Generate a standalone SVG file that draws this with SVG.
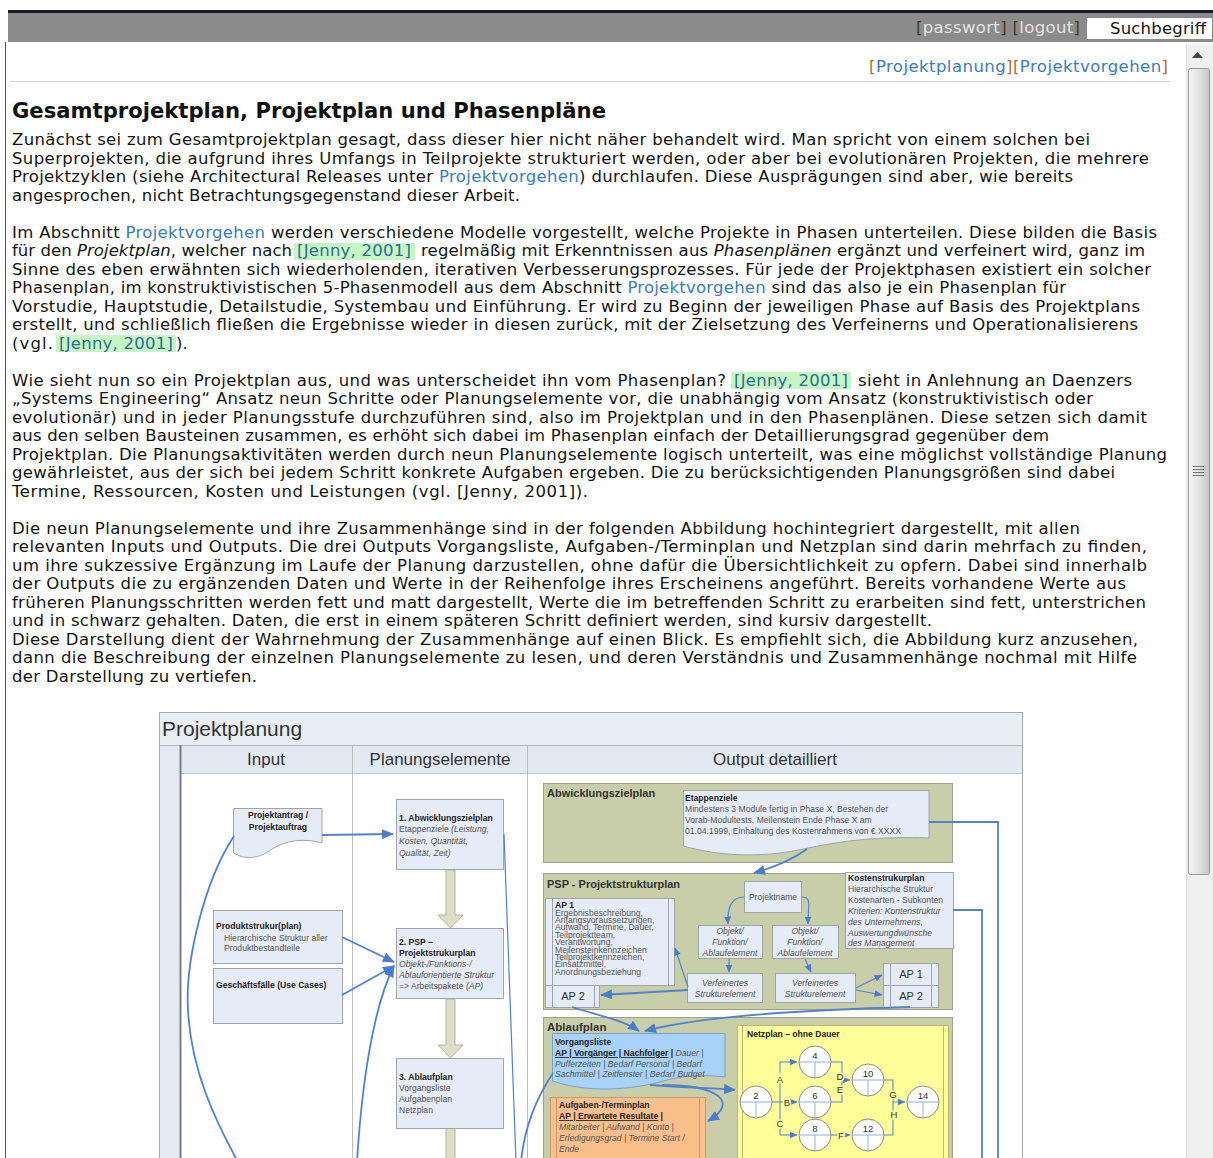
<svg xmlns="http://www.w3.org/2000/svg" width="1213" height="1158" viewBox="0 0 1213 1158">
<defs>
<style>
.b{font-family:"DejaVu Sans",Verdana,sans-serif;font-size:16.5px;fill:#141414}
.lk{fill:#3a7cc0}
.jn{fill:#2a6f8f}
.hl{fill:#c6f6c3}
.br{fill:#b86b32}
.d{font-family:"Liberation Sans",Arial,sans-serif;fill:#333}
.s{font-family:"Liberation Sans",Arial,sans-serif;font-size:8.6px;fill:#555}
.sb{font-weight:bold;fill:#222}
.it{font-style:italic}
.u{text-decoration:underline}
.box{fill:#e6ecf7;stroke:#a4a4a4;stroke-width:1}
.olive{fill:#c8cea8;stroke:#9ea283;stroke-width:1}
.flow{fill:#dcdec6;stroke:#b2b69a;stroke-width:1}
.con{fill:none;stroke:#4f82d4;stroke-width:1.8}
.thin{fill:none;stroke:#4f82d4;stroke-width:1.2}
.net{fill:none;stroke:#5b8bd4;stroke-width:1.1}
.node{fill:#fff;stroke:#8a8a8a;stroke-width:1}
.cross{stroke:#8fb0e0;stroke-width:1}
.nl{font-family:"Liberation Sans",Arial,sans-serif;font-size:9.5px;fill:#333;text-anchor:middle}
.el{font-family:"Liberation Sans",Arial,sans-serif;font-size:9.5px;fill:#333;text-anchor:middle;stroke:#ffff99;stroke-width:3;paint-order:stroke}
</style>
<marker id="ab" markerUnits="userSpaceOnUse" viewBox="0 0 12 10" markerWidth="12" markerHeight="10" refX="11" refY="5" orient="auto"><path d="M0,0 L12,5 L0,10 Z" fill="#4a7dd0"/></marker>
<marker id="as" markerUnits="userSpaceOnUse" viewBox="0 0 8 7" markerWidth="8" markerHeight="7" refX="7.5" refY="3.5" orient="auto"><path d="M0,0 L8,3.5 L0,7 Z" fill="#4a7dd0"/></marker>
<linearGradient id="thumb" x1="0" y1="0" x2="1" y2="0"><stop offset="0" stop-color="#f6f6f6"/><stop offset="0.5" stop-color="#e2e2e2"/><stop offset="1" stop-color="#c4c4c4"/></linearGradient>
</defs>

<rect width="1213" height="1158" fill="#fff"/>

<g id="page-chrome">
<rect x="8" y="10" width="1205" height="3" fill="#1c1c28"/>
<rect x="8" y="13" width="1205" height="29" fill="#8b8b8b"/>
<rect x="1087" y="18" width="125" height="21" fill="#fff"/>
<text class="b" x="916" y="33" textLength="164" lengthAdjust="spacing"><tspan fill="#4b3a22">[</tspan><tspan fill="#e4e4e4">passwort</tspan><tspan fill="#4b3a22">]</tspan> <tspan fill="#4b3a22">[</tspan><tspan fill="#e4e4e4">logout</tspan><tspan fill="#4b3a22">]</tspan></text>
<text class="b" x="1110" y="34" textLength="96" lengthAdjust="spacing">Suchbegriff</text>
<line x1="5.5" y1="42" x2="5.5" y2="1158" stroke="#555" stroke-width="1"/>
<text class="b" x="869" y="72" textLength="299" lengthAdjust="spacing"><tspan class="br">[</tspan><tspan class="lk">Projektplanung</tspan><tspan class="br">][</tspan><tspan class="lk">Projektvorgehen</tspan><tspan class="br">]</tspan></text>
<line x1="10" y1="81.5" x2="1170" y2="81.5" stroke="#d4d4d4" stroke-width="1"/>
<rect x="1186" y="44" width="27" height="1114" fill="#f0f0f0"/>
<line x1="1186.5" y1="44" x2="1186.5" y2="1158" stroke="#dcdcdc"/>
<path d="M1192,58 L1197.5,52 L1203,58 Z" fill="#444"/>
<rect x="1188.5" y="68.5" width="21" height="806" rx="2" fill="url(#thumb)" stroke="#9a9a9a"/>
<g stroke="#777" stroke-width="1"><line x1="1193" y1="466.5" x2="1204" y2="466.5"/><line x1="1193" y1="469.5" x2="1204" y2="469.5"/><line x1="1193" y1="472.5" x2="1204" y2="472.5"/><line x1="1193" y1="475.5" x2="1204" y2="475.5"/></g>
</g>

<g id="article">
<text x="12" y="118" font-family="DejaVu Sans, Verdana, sans-serif" font-weight="bold" font-size="21.5px" fill="#111" textLength="594" lengthAdjust="spacingAndGlyphs">Gesamtprojektplan, Projektplan und Phasenpläne</text>

<rect class="hl" x="294" y="243" width="121" height="17"/>
<rect class="hl" x="56" y="335" width="120" height="17"/>
<rect class="hl" x="731" y="372" width="120" height="17"/>

<text class="b" x="12" y="145" textLength="1078" lengthAdjust="spacing">Zunächst sei zum Gesamtprojektplan gesagt, dass dieser hier nicht näher behandelt wird. Man spricht von einem solchen bei</text>
<text class="b" x="12" y="163.5" textLength="1137" lengthAdjust="spacing">Superprojekten, die aufgrund ihres Umfangs in Teilprojekte strukturiert werden, oder aber bei evolutionären Projekten, die mehrere</text>
<text class="b" x="12" y="182" textLength="1061" lengthAdjust="spacing">Projektzyklen (siehe Architectural Releases unter <tspan class="lk">Projektvorgehen</tspan>) durchlaufen. Diese Ausprägungen sind aber, wie bereits</text>
<text class="b" x="12" y="200.5" textLength="508" lengthAdjust="spacing">angesprochen, nicht Betrachtungsgegenstand dieser Arbeit.</text>

<text class="b" x="12" y="237.5" textLength="1145" lengthAdjust="spacing">Im Abschnitt <tspan class="lk">Projektvorgehen</tspan> werden verschiedene Modelle vorgestellt, welche Projekte in Phasen unterteilen. Diese bilden die Basis</text>
<text class="b" x="12" y="256" textLength="280" lengthAdjust="spacing">für den <tspan class="it">Projektplan</tspan>, welcher nach</text>
<text class="b jn" x="297" y="256" textLength="114" lengthAdjust="spacing">[Jenny, 2001]</text>
<text class="b" x="421" y="256" textLength="724" lengthAdjust="spacing">regelmäßig mit Erkenntnissen aus <tspan class="it">Phasenplänen</tspan> ergänzt und verfeinert wird, ganz im</text>
<text class="b" x="12" y="274.5" textLength="1139" lengthAdjust="spacing">Sinne des eben erwähnten sich wiederholenden, iterativen Verbesserungsprozesses. Für jede der Projektphasen existiert ein solcher</text>
<text class="b" x="12" y="293" textLength="1054" lengthAdjust="spacing">Phasenplan, im konstruktivistischen 5-Phasenmodell aus dem Abschnitt <tspan class="lk">Projektvorgehen</tspan> sind das also je ein Phasenplan für</text>
<text class="b" x="12" y="311.5" textLength="1128" lengthAdjust="spacing">Vorstudie, Hauptstudie, Detailstudie, Systembau und Einführung. Er wird zu Beginn der jeweiligen Phase auf Basis des Projektplans</text>
<text class="b" x="12" y="330" textLength="1126" lengthAdjust="spacing">erstellt, und schließlich fließen die Ergebnisse wieder in diesen zurück, mit der Zielsetzung des Verfeinerns und Operationalisierens</text>
<text class="b" x="12" y="348.5" textLength="41" lengthAdjust="spacing">(vgl.</text>
<text class="b jn" x="59" y="348.5" textLength="114" lengthAdjust="spacing">[Jenny, 2001]</text>
<text class="b" x="176" y="348.5">).</text>

<text class="b" x="12" y="385.5" textLength="714" lengthAdjust="spacing">Wie sieht nun so ein Projektplan aus, und was unterscheidet ihn vom Phasenplan?</text>
<text class="b jn" x="734" y="385.5" textLength="114" lengthAdjust="spacing">[Jenny, 2001]</text>
<text class="b" x="858" y="385.5" textLength="274" lengthAdjust="spacing">sieht in Anlehnung an Daenzers</text>
<text class="b" x="12" y="404" textLength="1081" lengthAdjust="spacing">„Systems Engineering“ Ansatz neun Schritte oder Planungselemente vor, die unabhängig vom Ansatz (konstruktivistisch oder</text>
<text class="b" x="12" y="422.5" textLength="1135" lengthAdjust="spacing">evolutionär) und in jeder Planungsstufe durchzuführen sind, also im Projektplan und in den Phasenplänen. Diese setzen sich damit</text>
<text class="b" x="12" y="441" textLength="1037" lengthAdjust="spacing">aus den selben Bausteinen zusammen, es erhöht sich dabei im Phasenplan einfach der Detaillierungsgrad gegenüber dem</text>
<text class="b" x="12" y="459.5" textLength="1155" lengthAdjust="spacing">Projektplan. Die Planungsaktivitäten werden durch neun Planungselemente logisch unterteilt, was eine möglichst vollständige Planung</text>
<text class="b" x="12" y="478" textLength="1103" lengthAdjust="spacing">gewährleistet, aus der sich bei jedem Schritt konkrete Aufgaben ergeben. Die zu berücksichtigenden Planungsgrößen sind dabei</text>
<text class="b" x="12" y="496.5" textLength="576" lengthAdjust="spacing">Termine, Ressourcen, Kosten und Leistungen (vgl. [Jenny, 2001]).</text>

<text class="b" x="12" y="533.5" textLength="1068" lengthAdjust="spacing">Die neun Planungselemente und ihre Zusammenhänge sind in der folgenden Abbildung hochintegriert dargestellt, mit allen</text>
<text class="b" x="12" y="552" textLength="1135" lengthAdjust="spacing">relevanten Inputs und Outputs. Die drei Outputs Vorgangsliste, Aufgaben-/Terminplan und Netzplan sind darin mehrfach zu finden,</text>
<text class="b" x="12" y="570.5" textLength="1135" lengthAdjust="spacing">um ihre sukzessive Ergänzung im Laufe der Planung darzustellen, ohne dafür die Übersichtlichkeit zu opfern. Dabei sind innerhalb</text>
<text class="b" x="12" y="589" textLength="1114" lengthAdjust="spacing">der Outputs die zu ergänzenden Daten und Werte in der Reihenfolge ihres Erscheinens angeführt. Bereits vorhandene Werte aus</text>
<text class="b" x="12" y="607.5" textLength="1134" lengthAdjust="spacing">früheren Planungsschritten werden fett und matt dargestellt, Werte die im betreffenden Schritt zu erarbeiten sind fett, unterstrichen</text>
<text class="b" x="12" y="626" textLength="920" lengthAdjust="spacing">und in schwarz gehalten. Daten, die erst in einem späteren Schritt definiert werden, sind kursiv dargestellt.</text>
<text class="b" x="12" y="644.5" textLength="1126" lengthAdjust="spacing">Diese Darstellung dient der Wahrnehmung der Zusammenhänge auf einen Blick. Es empfiehlt sich, die Abbildung kurz anzusehen,</text>
<text class="b" x="12" y="663" textLength="1125" lengthAdjust="spacing">dann die Beschreibung der einzelnen Planungselemente zu lesen, und deren Verständnis und Zusammenhänge nochmal mit Hilfe</text>
<text class="b" x="12" y="681.5" textLength="245" lengthAdjust="spacing">der Darstellung zu vertiefen.</text>
</g>

<g id="diagram">
<g id="frame">
<rect x="159.5" y="712.5" width="863" height="460" fill="#fff" stroke="#a8a8a8"/>
<rect x="160" y="713" width="862" height="32" fill="#e9eef5"/>
<text class="d" x="162" y="736" font-size="21px">Projektplanung</text>
<rect x="160" y="745" width="21" height="420" fill="#e4eaf3"/>
<rect x="181" y="745" width="841" height="28" fill="#e2e9f3"/>
<line x1="160" y1="745.5" x2="1022" y2="745.5" stroke="#b4b4b4"/>
<line x1="181" y1="773.5" x2="1022" y2="773.5" stroke="#c4c4c4"/>
<line x1="180.5" y1="745" x2="180.5" y2="1158" stroke="#7d7d7d" stroke-width="2"/>
<line x1="352.5" y1="745" x2="352.5" y2="1158" stroke="#bdbdbd"/>
<line x1="527.5" y1="745" x2="527.5" y2="1158" stroke="#bdbdbd"/>
<text class="d" x="266" y="765" font-size="17px" text-anchor="middle">Input</text>
<text class="d" x="440" y="765" font-size="17px" text-anchor="middle">Planungselemente</text>
<text class="d" x="775" y="765" font-size="17px" text-anchor="middle">Output detailliert</text>
</g>

<g id="input-projektantrag">
<path class="box" d="M233.5,808.5 H322 V843 C305,838 286,840 272,849 C259,859 245,860 233.5,853 Z"/>
<text class="s sb" x="278" y="818" text-anchor="middle">Projektantrag /</text>
<text class="s sb" x="278" y="830" text-anchor="middle">Projektauftrag</text>
</g>
<g id="input-produktstruktur">
<rect class="box" x="213.5" y="910.5" width="129" height="53"/>
<text class="s sb" x="216" y="929">Produktstrukur(plan)</text>
<text class="s" x="224" y="941">Hierarchische Struktur aller</text>
<text class="s" x="224" y="951">Produktbestandteile</text>
</g>
<g id="input-geschaeftsfaelle">
<rect class="box" x="213.5" y="968.5" width="129" height="55"/>
<text class="s sb" x="216" y="988">Geschäftsfälle (Use Cases)</text>
</g>

<g id="flow-arrows">
<path class="flow" d="M446,870 V915 H438 L450.5,928 L463,915 H455 V870 Z"/>
<path class="flow" d="M446,999 V1045 H438 L450.5,1058 L463,1045 H455 V999 Z"/>
<path class="flow" d="M446,1128 V1162 H455 V1128 Z"/>
</g>

<g id="pe-abwicklungszielplan">
<rect class="box" x="396.5" y="799.5" width="107" height="70"/>
<text class="s sb" x="399" y="821">1. Abwicklungszielplan</text>
<text class="s" x="399" y="832">Etappenziele <tspan class="it">(Leistung,</tspan></text>
<text class="s it" x="399" y="844">Kosten, Quantität,</text>
<text class="s it" x="399" y="856">Qualität, Zeit)</text>
</g>
<g id="pe-psp">
<rect class="box" x="396.5" y="928.5" width="107" height="70"/>
<text class="s sb" x="399" y="945">2. PSP –</text>
<text class="s sb" x="399" y="956">Projektstrukurplan</text>
<text class="s it" x="399" y="967">Objekt-/Funktions-/</text>
<text class="s it" x="399" y="978">Ablauforientierte Struktur</text>
<text class="s" x="399" y="989">=&gt; Arbeitspakete <tspan class="it">(AP)</tspan></text>
</g>
<g id="pe-ablaufplan">
<rect class="box" x="396.5" y="1058.5" width="107" height="70"/>
<text class="s sb" x="399" y="1080">3. Ablaufplan</text>
<text class="s" x="399" y="1091">Vorgangsliste</text>
<text class="s" x="399" y="1102">Aufgabenplan</text>
<text class="s" x="399" y="1113">Netzplan</text>
</g>

<g id="out-abwicklungszielplan">
<rect class="olive" x="543.5" y="783.5" width="409" height="79"/>
<text class="d" x="547" y="797" font-size="11px" font-weight="bold" fill="#222">Abwicklungszielplan</text>
<path class="box" d="M683.5,790.5 H929 V838 C885,836 845,840 808,848 C770,857 725,858 683.5,846 Z" fill="#eef2fa"/>
<text class="s sb" x="685" y="801">Etappenziele</text>
<text class="s" x="685" y="812">Mindestens 3 Module fertig in Phase X, Bestehen der</text>
<text class="s" x="685" y="823">Vorab-Modultests, Meilenstein Ende Phase X am</text>
<text class="s" x="685" y="834">01.04.1999, Einhaltung des Kostenrahmens von € XXXX</text>
</g>

<g id="out-psp">
<rect class="olive" x="543.5" y="873.5" width="409" height="136"/>
<text class="d" x="547" y="888" font-size="11px" font-weight="bold" fill="#222">PSP - Projektstrukturplan</text>
<g id="psp-ap1-list">
<rect class="box" x="545.5" y="898.5" width="129" height="87"/>
<line x1="552.5" y1="899" x2="552.5" y2="985" stroke="#a4a4a4"/>
<line x1="668.5" y1="899" x2="668.5" y2="985" stroke="#a4a4a4"/>
<g class="s" font-size="8.8px" fill="#444">
<text x="555" y="908" class="sb">AP 1</text>
<text x="555" y="915.5">Ergebnisbeschreibung,</text>
<text x="555" y="923">Anfangsvoraussetzungen,</text>
<text x="555" y="930.4">Aufwand, Termine, Dauer,</text>
<text x="555" y="937.8">Teilprojektteam,</text>
<text x="555" y="945.2">Verantwortung,</text>
<text x="555" y="952.6">Meilensteinkennzeichen</text>
<text x="555" y="960">Teilprojektkennzeichen,</text>
<text x="555" y="967.4">Einsatzmittel,</text>
<text x="555" y="974.8">Anordnungsbeziehung</text>
</g>
</g>
<g id="psp-ap2-left">
<rect class="box" x="545.5" y="985.5" width="54" height="22"/>
<line x1="552.5" y1="986" x2="552.5" y2="1007" stroke="#a4a4a4"/>
<line x1="594.5" y1="986" x2="594.5" y2="1007" stroke="#a4a4a4"/>
<text class="d" x="573" y="1000" font-size="11px" text-anchor="middle">AP 2</text>
</g>
<g id="psp-projektname">
<rect class="box" x="744.5" y="881.5" width="57" height="31"/>
<text class="s" x="773" y="900" text-anchor="middle" font-size="9px" fill="#444">Projektname</text>
</g>
<g id="psp-objekt1">
<rect class="box" x="698.5" y="925.5" width="64" height="33"/>
<text class="s it" x="730" y="934" text-anchor="middle">Objekt/</text>
<text class="s it" x="730" y="945" text-anchor="middle">Funktion/</text>
<text class="s it" x="730" y="956" text-anchor="middle">Ablaufelement</text>
</g>
<g id="psp-objekt2">
<rect class="box" x="772.5" y="925.5" width="66" height="33"/>
<text class="s it" x="805" y="934" text-anchor="middle">Objekt/</text>
<text class="s it" x="805" y="945" text-anchor="middle">Funktion/</text>
<text class="s it" x="805" y="956" text-anchor="middle">Ablaufelement</text>
</g>
<g id="psp-verfeinert1">
<rect class="box" x="687.5" y="973.5" width="75" height="29"/>
<text class="s it" x="725" y="986" text-anchor="middle">Verfeinertes</text>
<text class="s it" x="725" y="997" text-anchor="middle">Strukturelement</text>
</g>
<g id="psp-verfeinert2">
<rect class="box" x="775.5" y="973.5" width="80" height="29"/>
<text class="s it" x="815" y="986" text-anchor="middle">Verfeinertes</text>
<text class="s it" x="815" y="997" text-anchor="middle">Strukturelement</text>
</g>
<g id="psp-ap-right">
<rect class="box" x="883.5" y="963.5" width="55" height="22"/>
<rect class="box" x="883.5" y="985.5" width="55" height="22"/>
<line x1="890.5" y1="964" x2="890.5" y2="1007" stroke="#a4a4a4"/>
<line x1="931.5" y1="964" x2="931.5" y2="1007" stroke="#a4a4a4"/>
<text class="d" x="911" y="978" font-size="11px" text-anchor="middle">AP 1</text>
<text class="d" x="911" y="1000" font-size="11px" text-anchor="middle">AP 2</text>
</g>
<g id="psp-kostenstruktur">
<rect class="box" x="845.5" y="872.5" width="108" height="76" fill="#eef2fa"/>
<text class="s sb" x="848" y="881" font-size="8.8px">Kostenstrukurplan</text>
<text class="s" x="848" y="892" font-size="8.8px">Hierarchische Struktur</text>
<text class="s" x="848" y="903" font-size="8.8px">Kostenarten - Subkonten</text>
<text class="s it" x="848" y="914" font-size="8.8px">Kriterien: Kontenstruktur</text>
<text class="s it" x="848" y="925" font-size="8.8px">des Unternehmens,</text>
<text class="s it" x="848" y="936" font-size="8.8px">Auswertungdwünsche</text>
<text class="s it" x="848" y="946" font-size="8.8px">des Management</text>
</g>
</g>

<g id="out-ablaufplan">
<rect class="olive" x="543.5" y="1017.5" width="409" height="150"/>
<text class="d" x="547" y="1031" font-size="11.5px" font-weight="bold" fill="#222">Ablaufplan</text>
<g id="vorgangsliste">
<path d="M552.5,1033.5 H725 V1077 C700,1074 680,1076 660,1082 C620,1092 582,1091 552.5,1081 Z" fill="#a9d2fa" stroke="#7aa0c8"/>
<g class="s" font-size="9px" fill="#444">
<text x="555" y="1045" class="sb">Vorgangsliste</text>
<text x="555" y="1056"><tspan class="sb u">AP | Vorgänger | Nachfolger</tspan><tspan class="sb"> |</tspan><tspan class="it"> Dauer |</tspan></text>
<text x="555" y="1067" class="it">Pufferzeiten | Bedarf Personal | Bedarf</text>
<text x="555" y="1077" class="it">Sachmittel | Zeitfenster | Bedarf Budget</text>
</g>
</g>
<g id="terminplan">
<rect x="550.5" y="1097.5" width="155" height="70" fill="#fbbf8b" stroke="#c99a70"/>
<line x1="556.5" y1="1098" x2="556.5" y2="1167" stroke="#c99a70"/>
<line x1="699.5" y1="1098" x2="699.5" y2="1167" stroke="#c99a70"/>
<g class="s" font-size="9px" fill="#555">
<text x="559" y="1108" class="sb">Aufgaben-/Terminplan</text>
<text x="559" y="1119"><tspan class="sb u">AP | Erwartete Resultate</tspan><tspan class="sb"> |</tspan></text>
<text x="559" y="1130" class="it">Mitarbeiter | Aufwand | Konto |</text>
<text x="559" y="1141" class="it">Erledigungsgrad | Termine Start /</text>
<text x="559" y="1152" class="it">Ende</text>
</g>
</g>
<g id="netzplan">
<rect x="737.5" y="1025.5" width="211" height="145" fill="#ffff99" stroke="#b8b880"/>
<line x1="742.5" y1="1026" x2="742.5" y2="1170" stroke="#b8b880"/>
<line x1="943.5" y1="1026" x2="943.5" y2="1170" stroke="#b8b880"/>
<text class="s sb" x="747" y="1037" font-size="8.6px">Netzplan – ohne Dauer</text>
<g class="net">
<path d="M772,1102 H797" marker-end="url(#as)"/>
<path d="M780,1062 V1135"/>
<path d="M780,1062 H797" marker-end="url(#as)"/>
<path d="M780,1135 H797" marker-end="url(#as)"/>
<path d="M831,1062 H842 V1102 H831"/>
<path d="M842,1080 H850" marker-end="url(#as)"/>
<path d="M831,1135 H850" marker-end="url(#as)"/>
<path d="M884,1080 H893 V1135 H884"/>
<path d="M893,1102 H905" marker-end="url(#as)"/>
</g>
<g id="n2"><circle class="node" cx="756" cy="1102" r="16"/><path class="cross" d="M740,1102 H772 M756,1102 V1118"/><text class="nl" x="756" y="1099">2</text></g>
<g id="n4"><circle class="node" cx="815" cy="1062" r="16"/><path class="cross" d="M799,1062 H831 M815,1062 V1078"/><text class="nl" x="815" y="1059">4</text></g>
<g id="n6"><circle class="node" cx="815" cy="1102" r="16"/><path class="cross" d="M799,1102 H831 M815,1102 V1118"/><text class="nl" x="815" y="1099">6</text></g>
<g id="n8"><circle class="node" cx="815" cy="1135" r="16"/><path class="cross" d="M799,1135 H831 M815,1135 V1151"/><text class="nl" x="815" y="1132">8</text></g>
<g id="n10"><circle class="node" cx="868" cy="1080" r="16"/><path class="cross" d="M852,1080 H884 M868,1080 V1096"/><text class="nl" x="868" y="1077">10</text></g>
<g id="n12"><circle class="node" cx="868" cy="1135" r="16"/><path class="cross" d="M852,1135 H884 M868,1135 V1151"/><text class="nl" x="868" y="1132">12</text></g>
<g id="n14"><circle class="node" cx="923" cy="1102" r="16"/><path class="cross" d="M907,1102 H939 M923,1102 V1118"/><text class="nl" x="923" y="1099">14</text></g>
<text class="el" x="780" y="1083">A</text>
<text class="el" x="787" y="1105.5">B</text>
<text class="el" x="780" y="1127">C</text>
<text class="el" x="840" y="1080">D</text>
<text class="el" x="840" y="1093">E</text>
<text class="el" x="841" y="1138.5">F</text>
<text class="el" x="893" y="1098">G</text>
<text class="el" x="894" y="1118">H</text>
</g>
</g>
</g>

<g id="connectors">
<path class="con" d="M322,835 L393,834" marker-end="url(#ab)"/>
<path class="con" d="M234,836 C205,880 185,960 188,1010 C191,1070 215,1120 238,1162"/>
<path class="con" d="M342,937 L394,962" marker-end="url(#ab)"/>
<path class="con" d="M342,995 L394,966" marker-end="url(#ab)"/>
<path class="con" d="M357,1162 C362,1080 374,1005 394,966" marker-end="url(#ab)"/>
<path class="thin" d="M504,834 L516,1162"/>
<path class="con" d="M521,1162 C524,1130 535,1100 553,1073"/>
<path class="con" d="M929,822 H998 V1162"/>
<path class="con" d="M953,910 H982 V1162"/>
<path class="con" d="M807,849 C792,860 775,867 754,873" marker-end="url(#ab)"/>
<path class="thin" d="M744,897 C733,897 727,905 728,924" marker-end="url(#as)"/>
<path class="thin" d="M802,897 C812,897 808,905 808,924" marker-end="url(#as)"/>
<path class="thin" d="M729,959 L729,972" marker-end="url(#as)"/>
<path class="thin" d="M805,959 L811,972" marker-end="url(#as)"/>
<path class="thin" d="M688,987 L675,948" marker-end="url(#as)"/>
<path class="con" d="M688,990 L601,995" marker-end="url(#ab)"/>
<path class="thin" d="M856,988 L882,975" marker-end="url(#as)"/>
<path class="thin" d="M856,990 L882,995" marker-end="url(#as)"/>
<path class="con" d="M572,1007 C595,1015 622,1019 639,1031" marker-end="url(#ab)"/>
<path class="con" d="M910,1007 C800,1010 700,1016 645,1031" marker-end="url(#ab)"/>
<path class="con" d="M650,1085 C690,1088 712,1088 735,1090" marker-end="url(#ab)"/>
<path class="con" d="M662,1085 C718,1085 740,1102 708,1121" marker-end="url(#ab)"/>
</g>
</svg>
